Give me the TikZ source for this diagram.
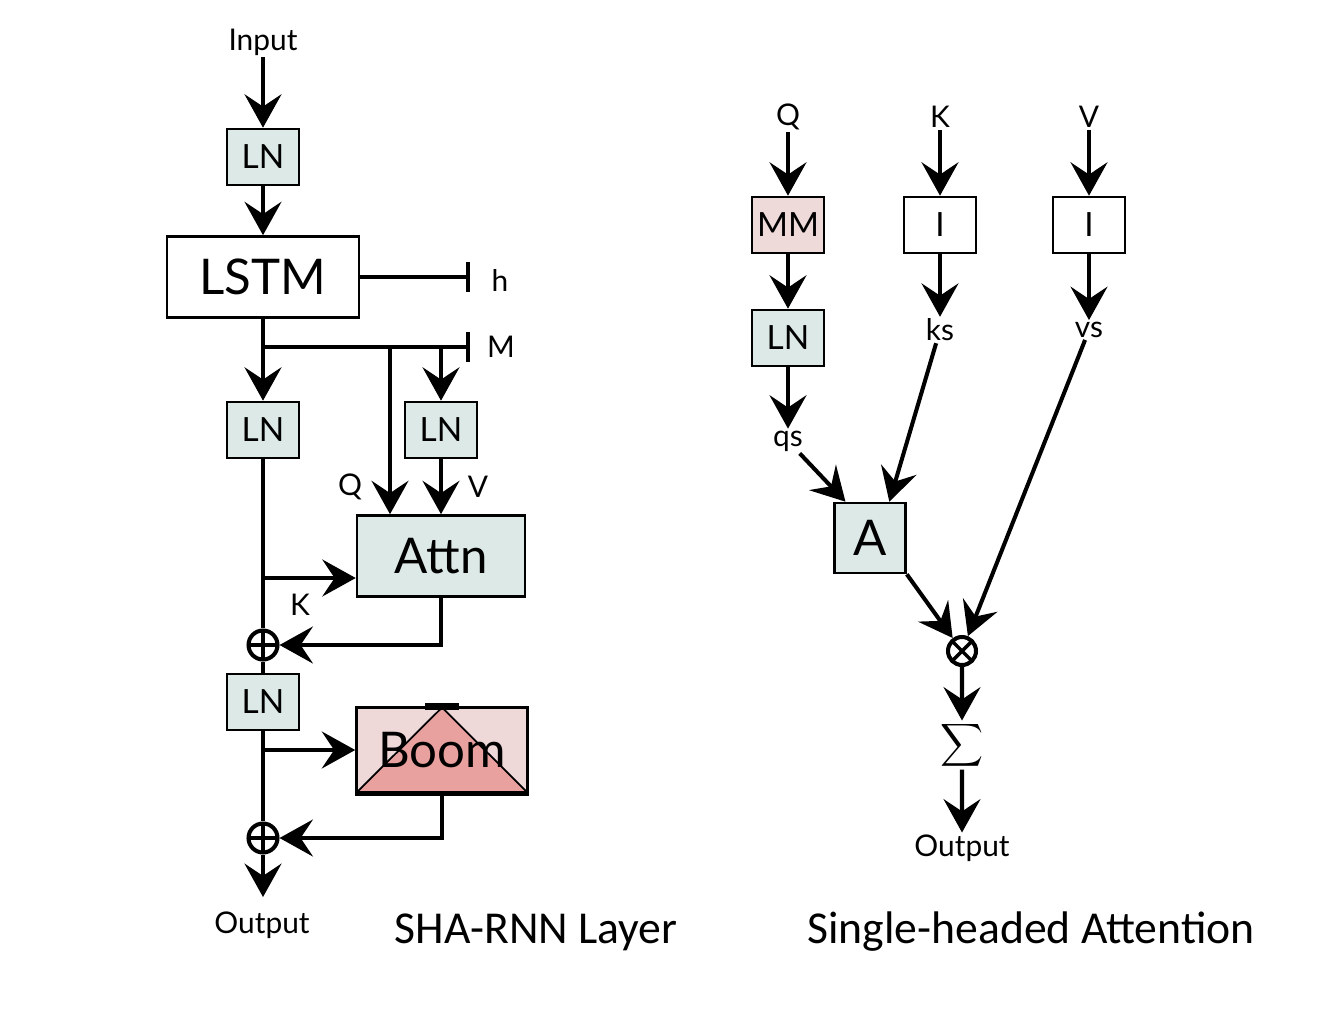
\documentclass[tikz,border=0pt]{standalone}
\usepackage{fontspec}
\setmainfont{Lato}
\newfontfamily\capfont{Carlito}
\usetikzlibrary{arrows.meta}
\definecolor{lnfill}{HTML}{DDE9E7}
\definecolor{mmfill}{HTML}{EFDADA}
\definecolor{boomfill}{HTML}{EED8D8}
\definecolor{boomtri}{HTML}{E8A19E}

\begin{document}
\begin{tikzpicture}[x=0.02cm, y=-0.02cm]
\tikzset{
  blok/.style={draw, line width=1.5pt, minimum width=1.44cm, minimum height=1.12cm, inner sep=0pt, font=\fontsize{19}{21}\selectfont},
  lnblok/.style={blok, fill=lnfill},
  grosblok/.style={draw, line width=1.5pt, inner sep=0pt, font=\fontsize{28}{32}\selectfont},
  lab/.style={font=\fontsize{17}{19}\selectfont, inner sep=1pt},
  fleche/.style={line width=2.3pt, -{Stealth[length=19pt, width=21pt, inset=7pt]}},
  trait/.style={line width=2.3pt},
  barre/.style={line width=2.3pt, -{Bar[width=17pt, line width=2.3pt]}},
  plus/.style={circle, draw, line width=2.3pt, minimum size=0.58cm, inner sep=0pt,
    path picture={\draw[line width=2pt] (path picture bounding box.north) -- (path picture bounding box.south)
      (path picture bounding box.west) -- (path picture bounding box.east);}},
  fois/.style={circle, draw, line width=2.3pt, minimum size=0.56cm, inner sep=0pt,
    path picture={\draw[line width=2pt] (path picture bounding box.north west) -- (path picture bounding box.south east)
      (path picture bounding box.north east) -- (path picture bounding box.south west);}},
}
\useasboundingbox (0,0) rectangle (1338,1014);

% SHA-RNN layer
\node[lab] (input) at (263,42) {Input};
\node[lnblok] (ln1) at (263,157) {LN};
\node[grosblok, minimum width=3.84cm, minimum height=1.62cm] (lstm) at (263,277) {LSTM};
\node[lab] (h) at (500,280) {h};
\node[lab] (m) at (501,347) {M};
\node[lnblok] (ln2) at (263,430) {LN};
\node[lnblok] (ln3) at (441,430) {LN};
\node[grosblok, fill=lnfill, minimum width=3.36cm, minimum height=1.62cm] (attn) at (441,556) {Attn};
\node[lab] (q) at (350,487) {Q};
\node[lab] (v) at (478,487) {V};
\node[lab] (k) at (300,605) {K};
\node[plus] (plus1) at (263,645) {};
\node[lnblok] (ln4) at (263,702) {LN};
\node[grosblok, fill=boomfill, minimum width=3.42cm, minimum height=1.70cm,
  path picture={\fill[boomtri] (path picture bounding box.south west) -- (path picture bounding box.north)
    -- (path picture bounding box.south east) -- cycle;
    \draw[line width=1pt] (path picture bounding box.south west) -- (path picture bounding box.north)
    -- (path picture bounding box.south east);}] (boom) at (442,750) {Boom};
\node[plus] (plus2) at (263,838) {};
\node[lab] (output) at (262,925) {Output};
\node[font=\capfont\fontsize{26}{30}\selectfont] (titre1) at (536,932) {SHA-RNN Layer};

\coordinate (hend) at (470,277);
\coordinate (mj) at (263,347);
\coordinate (mend) at (470,347);
\coordinate (qtop) at (390,347);
\coordinate (kj) at (263,578);
\coordinate (bj) at (263,750);
\coordinate (outtip) at (263,897);

\draw[fleche] (input) -- (ln1);
\draw[fleche] (ln1) -- (lstm);
\draw[barre] (lstm.east) -- (hend);
\draw[trait] (lstm.south) -- (mj);
\draw[barre] (mj) -- (mend);
\draw[fleche] (mj) -- (ln2);
\draw[fleche] (qtop) -- (qtop |- attn.north);
\draw[fleche] (ln3 |- mj) -- (ln3);
\draw[fleche] (ln3) -- (attn);
\draw[trait] (ln2) -- (plus1);
\draw[fleche] (kj) -- (kj -| attn.west);
\draw[fleche] (attn.south) |- (plus1);
\draw[trait] (plus1) -- (ln4);
\draw[trait] (ln4) -- (plus2);
\draw[fleche] (bj) -- (boom.west);
\draw[line width=4pt] ([xshift=-9.5pt]boom.north) -- ([xshift=9.5pt]boom.north);
\draw[line width=3pt] (boom.south west) -- (boom.south east);
\draw[fleche] (boom.south) |- (plus2);
\draw[fleche] (plus2) -- (outtip);

% single-headed attention
\node[lab] (qin) at (788,117) {Q};
\node[lab] (kin) at (940,117) {K};
\node[lab] (vin) at (1089,117) {V};
\node[blok, fill=mmfill] (mm) at (788,225) {MM};
\node[blok] (id1) at (940,225) {I};
\node[blok] (id2) at (1089,225) {I};
\node[lnblok] (ln5) at (788,338) {LN};
\node[lab] (ks) at (940,330) {ks};
\node[lab] (vs) at (1089,330) {vs};
\node[lab] (qs) at (788,441) {qs};
\node[grosblok, fill=lnfill, minimum width=1.42cm, minimum height=1.40cm] (a) at (870,538) {A};
\node[fois] (fois1) at (962,651) {};
\node[scale=1.7, inner sep=0pt] (sig) at (962,745) {$\displaystyle\sum$};
\node[lab] (out2) at (962,848) {Output};
\node[font=\capfont\fontsize{26}{30}\selectfont] (titre2) at (1031,932) {Single-headed Attention};

\draw[fleche] (qin) -- (mm);
\draw[fleche] (kin) -- (id1);
\draw[fleche] (vin) -- (id2);
\draw[fleche] (mm) -- (ln5);
\draw[fleche] (id1) -- (ks);
\draw[fleche] (id2) -- (vs);
\draw[fleche] (ln5) -- (qs);
\draw[fleche] (qs) -- ([xshift=7pt]a.north west);
\draw[fleche] (ks) -- ([xshift=11pt]a.north);
\draw[fleche] (vs) -- (fois1);
\draw[fleche] (a.south east) -- (fois1);
\draw[fleche] (fois1) -- (sig);
\draw[fleche] (sig) -- (out2);
\end{tikzpicture}
\end{document}
